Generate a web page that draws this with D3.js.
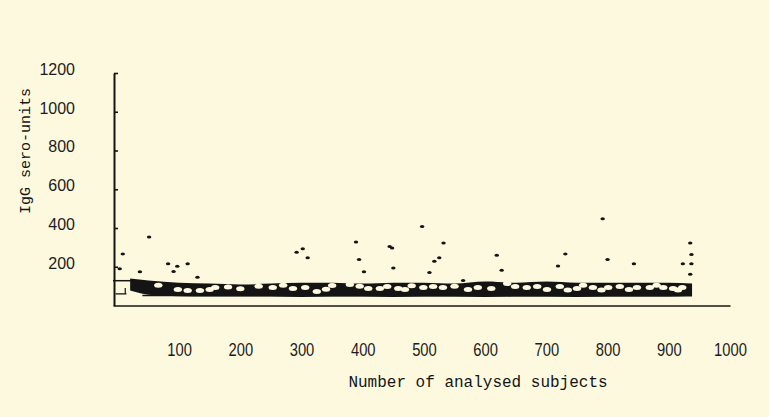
<!DOCTYPE html>
<html>
<head>
<meta charset="utf-8">
<script src="https://cdn.jsdelivr.net/npm/d3@7"></script>
<style>
    html, body { margin: 0; padding: 0; background: #fdf9df; }
    svg { display: block; }
    .tick text { fill: #1c1c1c; }
</style>
</head>
<body>
<svg width="769" height="417"></svg>
<script>
// tick labels
var xTicks = [100, 200, 300, 400, 500, 600, 700, 800, 900, 1000];
var yTicks = [200, 400, 600, 800, 1000, 1200];

// scattered subjects above the main cloud: [subject no., IgG sero-units]
var outlierN = [3, 8, 36, 51, 82, 91, 97, 114, 130, 292, 302, 310, 389, 394, 402, 444, 448, 450,
    497, 509, 517, 525, 532, 564, 619, 627, 719, 731, 792, 800, 843, 923, 935, 937, 937, 935];
var outlierV = [190, 266, 174, 354, 215, 175, 202, 215, 146, 275, 293, 246, 328, 237, 174, 305, 297, 194,
    408, 170, 228, 246, 323, 129, 259, 182, 204, 266, 448, 237, 216, 215, 323, 263, 216, 161];

// the dense band of ordinary subjects (upper / lower edge)
var bandN     = [20, 50, 100, 150, 200, 250, 300, 350, 400, 450, 500, 550, 600, 650, 700, 750, 800, 850, 900, 938];
var bandUpper = [139, 129, 118, 113, 108, 113, 118, 118, 113, 118, 118, 113, 124, 118, 124, 118, 118, 118, 118, 113];
var bandLower = [78, 56, 48, 46, 46, 46, 44, 46, 46, 44, 46, 46, 44, 46, 46, 44, 46, 46, 46, 50];

// gaps inside the band
var holeN = [66, 98, 114, 134, 150, 159, 180, 200, 230, 253, 270, 286, 306, 325, 340, 350, 379, 395, 409,
    428, 440, 458, 469, 480, 499, 515, 531, 550, 572, 588, 610, 636, 649, 668, 685, 701, 722, 735, 750,
    760, 776, 790, 801, 820, 835, 848, 869, 880, 891, 907, 915, 922];
var holeV = [104, 82, 77, 77, 82, 93, 95, 86, 100, 93, 104, 88, 93, 72, 84, 103, 108, 100, 88,
    88, 98, 88, 82, 102, 93, 98, 93, 100, 82, 93, 88, 113, 98, 93, 98, 82, 98, 80, 88,
    104, 93, 80, 93, 98, 82, 93, 93, 104, 93, 88, 80, 93];

var svg = d3.select("svg"),
    ink = "#141414";

var x = d3.scaleLinear().domain([-8, 1000]).range([113, 730]);
var y = d3.scaleLinear().domain([0, 1200]).range([305.5, 73]);

// x axis
var gx = svg.append("g")
    .attr("transform", "translate(0," + y(0) + ")")
    .call(d3.axisBottom(x).tickValues(xTicks).tickFormat(d3.format("d")).tickSize(0).tickPadding(38));
gx.select(".domain").attr("stroke", ink).attr("stroke-width", 1.6);
gx.selectAll("text")
    .attr("font-family", "'Liberation Sans', Arial, sans-serif")
    .attr("font-size", 18)
    .attr("transform", "scale(0.82,1)");

// y axis, small ticks point inwards
var gy = svg.append("g")
    .attr("transform", "translate(" + 114 + ",0)")
    .call(d3.axisLeft(y).tickValues(yTicks).tickFormat(d3.format("d"))
        .tickSizeInner(-4).tickSizeOuter(0).tickPadding(39));
gy.select(".domain").attr("stroke", ink).attr("stroke-width", 2);
gy.selectAll(".tick line").attr("stroke", ink).attr("stroke-width", 1.6);
gy.selectAll("text")
    .attr("font-family", "'Liberation Sans', Arial, sans-serif")
    .attr("font-size", 16)
    .attr("dy", "0.08em");

// the band
var area = d3.area()
    .x(function (d, i) { return x(bandN[i]); })
    .y0(function (d, i) { return y(bandLower[i]); })
    .y1(function (d, i) { return y(bandUpper[i]); })
    .curve(d3.curveMonotoneX);
svg.append("path")
    .datum(bandN)
    .attr("d", area)
    .attr("fill", ink);

svg.selectAll(".hole")
    .data(holeN)
    .enter().append("ellipse")
    .attr("class", "hole")
    .attr("cx", function (d) { return x(d); })
    .attr("cy", function (d, i) { return y(holeV[i]); })
    .attr("rx", 4.2)
    .attr("ry", 2.5)
    .attr("fill", "#fdf9df");

// short marks near the origin
var line = d3.line()
    .x(function (d) { return x(d[0]); })
    .y(function (d) { return y(d[1]); });
svg.append("path").attr("d", line([[-8, 128], [25, 128]]))
    .attr("stroke", ink).attr("stroke-width", 1.5).attr("fill", "none");
svg.append("path").attr("d", line([[-4, 60], [14, 60]]))
    .attr("stroke", ink).attr("stroke-width", 1.3).attr("fill", "none");
svg.append("path").attr("d", line([[12, 60], [12, 90]]))
    .attr("stroke", ink).attr("stroke-width", 1.2).attr("fill", "none");
svg.append("path").attr("d", line([[40, 52], [938, 50]]))
    .attr("stroke", ink).attr("stroke-width", 1.6).attr("fill", "none");

// outliers
svg.selectAll(".dot")
    .data(outlierN)
    .enter().append("ellipse")
    .attr("class", "dot")
    .attr("cx", function (d) { return x(d); })
    .attr("cy", function (d, i) { return y(outlierV[i]); })
    .attr("rx", 2.2)
    .attr("ry", 1.5)
    .attr("fill", ink);

// axis titles
svg.append("text")
    .attr("x", 478)
    .attr("y", 387)
    .attr("text-anchor", "middle")
    .attr("font-family", "'Liberation Mono', 'DejaVu Sans Mono', monospace")
    .attr("font-size", 16)
    .attr("fill", ink)
    .text("Number of analysed subjects");

svg.append("text")
    .attr("transform", "translate(29.5,151) rotate(-90)")
    .attr("text-anchor", "middle")
    .attr("font-family", "'Liberation Mono', 'DejaVu Sans Mono', monospace")
    .attr("font-size", 15)
    .attr("fill", ink)
    .text("IgG sero-units");
</script>
</body>
</html>
